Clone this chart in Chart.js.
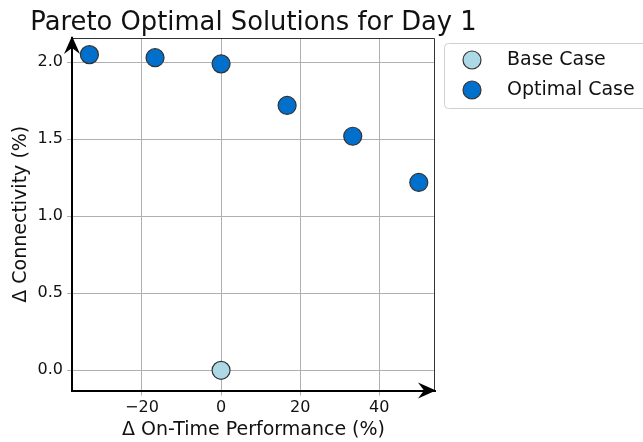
<!DOCTYPE html>
<html lang="en">
  <head>
    <meta charset="UTF-8" />
    <title>Pareto Optimal Solutions for Day 1</title>
    <script src="https://cdn.jsdelivr.net/npm/chart.js"></script>
    <style>
      * {
        margin: 0;
        padding: 0;
        box-sizing: border-box;
      }
      body {
        background-color: #ffffff;
        width: 643px;
        height: 442px;
        overflow: hidden;
      }
      #wrap {
        position: relative;
        width: 643px;
        height: 442px;
      }
    </style>
  </head>
  <body>
    <div id="wrap"><canvas id="paretoChart"></canvas></div>

    <script>
      // Data
      const baseX = [0];
      const baseY = [0.0];
      const optimalX = [-33.3, -16.7, 0, 16.7, 33.3, 50];
      const optimalY = [2.05, 2.03, 1.99, 1.72, 1.52, 1.22];
      const xTicks = [-20, 0, 20, 40];
      const yTicks = [0.0, 0.5, 1.0, 1.5, 2.0];
      const seriesLabels = ["Base Case", "Optimal Case"];
      const chartTitle = "Pareto Optimal Solutions for Day 1";

      const FONT = "'DejaVu Sans', sans-serif";
      const TEXT = "#111111";
      const GRID = "#b0b0b0";

      function toPoints(xs, ys) {
        return xs.map((x, i) => ({ x: x, y: ys[i] }));
      }

      // Draws a filled "stealth" arrow head with its tip at (tx, ty)
      function arrowHead(ctx, tx, ty, dir) {
        const len = 18;
        const half = 8;
        const notch = 6;
        ctx.save();
        ctx.translate(tx, ty);
        ctx.rotate(dir);
        ctx.beginPath();
        ctx.moveTo(0, 0);
        ctx.lineTo(-len, -half);
        ctx.lineTo(-len + notch, 0);
        ctx.lineTo(-len, half);
        ctx.closePath();
        ctx.fillStyle = "#000000";
        ctx.fill();
        ctx.restore();
      }

      // Title, top/right frame, arrows on the axes and the legend box
      const decorations = {
        id: "decorations",
        afterDraw(chart) {
          const { ctx, chartArea: a } = chart;
          ctx.save();

          // title centred over the plot area (the built-in one gets squeezed)
          ctx.fillStyle = TEXT;
          ctx.font = "25.8px " + FONT;
          ctx.textAlign = "center";
          ctx.textBaseline = "alphabetic";
          ctx.fillText(chartTitle, (a.left + a.right) / 2, 30);

          // thin top and right spines
          ctx.strokeStyle = "#333333";
          ctx.lineWidth = 1;
          ctx.beginPath();
          ctx.moveTo(a.left, a.top + 0.5);
          ctx.lineTo(a.right - 0.5, a.top + 0.5);
          ctx.lineTo(a.right - 0.5, a.bottom);
          ctx.stroke();

          arrowHead(ctx, a.left, a.top - 2, -Math.PI / 2);
          arrowHead(ctx, a.right + 1, a.bottom, 0);

          // legend
          const lx = 444,
            ly = 43,
            lw = 210,
            lh = 65;
          ctx.beginPath();
          ctx.roundRect(lx + 0.5, ly + 0.5, lw, lh, 4);
          ctx.fillStyle = "rgba(255,255,255,0.8)";
          ctx.fill();
          ctx.strokeStyle = "#d0d0d0";
          ctx.lineWidth = 1;
          ctx.stroke();

          chart.data.datasets.forEach((ds, i) => {
            const cy = ly + 17 + i * 30;
            ctx.beginPath();
            ctx.arc(472, cy, 9, 0, Math.PI * 2);
            ctx.fillStyle = ds.backgroundColor;
            ctx.fill();
            ctx.lineWidth = ds.borderWidth;
            ctx.strokeStyle = ds.borderColor;
            ctx.stroke();
            ctx.fillStyle = TEXT;
            ctx.font = "19px " + FONT;
            ctx.textBaseline = "middle";
            ctx.textAlign = "left";
            ctx.fillText(ds.label, 507, cy);
          });
          ctx.restore();
        },
      };

      function formatTick(v) {
        return v < 0 ? "\u2212" + Math.abs(v) : String(v);
      }

      window.onload = () => {
        const ctx = document.getElementById("paretoChart").getContext("2d");
        new Chart(ctx, {
          type: "scatter",
          data: {
            datasets: [
              {
                label: seriesLabels[0],
                data: toPoints(baseX, baseY),
                backgroundColor: "#add8e6",
                borderColor: "#333333",
                borderWidth: 1.2,
                pointRadius: 9,
                pointHoverRadius: 9,
              },
              {
                label: seriesLabels[1],
                data: toPoints(optimalX, optimalY),
                backgroundColor: "#0070cc",
                borderColor: "#333333",
                borderWidth: 1.2,
                pointRadius: 9,
                pointHoverRadius: 9,
              },
            ],
          },
          options: {
            responsive: true,
            maintainAspectRatio: false,
            animation: false,
            layout: {
              padding: { left: 0, right: 208, top: 38, bottom: 0 },
            },
            plugins: {
              legend: { display: false },
              tooltip: { enabled: false },
              title: { display: false },
            },
            scales: {
              x: {
                type: "linear",
                min: -37.7,
                max: 54.1,
                afterFit: (scale) => {
                  scale.height = 51.5;
                },
                afterBuildTicks: (scale) => {
                  scale.ticks = xTicks.map((v) => ({ value: v }));
                },
                ticks: {
                  color: TEXT,
                  font: { family: FONT, size: 16 },
                  padding: 3,
                  maxRotation: 0,
                  callback: formatTick,
                },
                grid: {
                  color: GRID,
                  lineWidth: 1,
                  tickLength: 5,
                },
                border: { color: "#000000", width: 2 },
                title: {
                  display: true,
                  text: "\u0394 On-Time Performance (%)",
                  color: TEXT,
                  font: { family: FONT, size: 19, lineHeight: 1.2 },
                  padding: { top: 0, bottom: 1 },
                },
              },
              y: {
                type: "linear",
                min: -0.131,
                max: 2.158,
                afterFit: (scale) => {
                  scale.width = 72;
                },
                afterBuildTicks: (scale) => {
                  scale.ticks = yTicks.map((v) => ({ value: v }));
                },
                ticks: {
                  color: TEXT,
                  font: { family: FONT, size: 16 },
                  padding: 4,
                  callback: (v) => v.toFixed(1),
                },
                grid: {
                  color: GRID,
                  lineWidth: 1,
                  tickLength: 5,
                },
                border: { color: "#000000", width: 2 },
                title: {
                  display: true,
                  text: "\u0394 Connectivity (%)",
                  color: TEXT,
                  font: { family: FONT, size: 19, lineHeight: 1.2 },
                  padding: { top: 10, bottom: 0 },
                },
              },
            },
          },
          plugins: [decorations],
        });
      };
    </script>
  </body>
</html>
